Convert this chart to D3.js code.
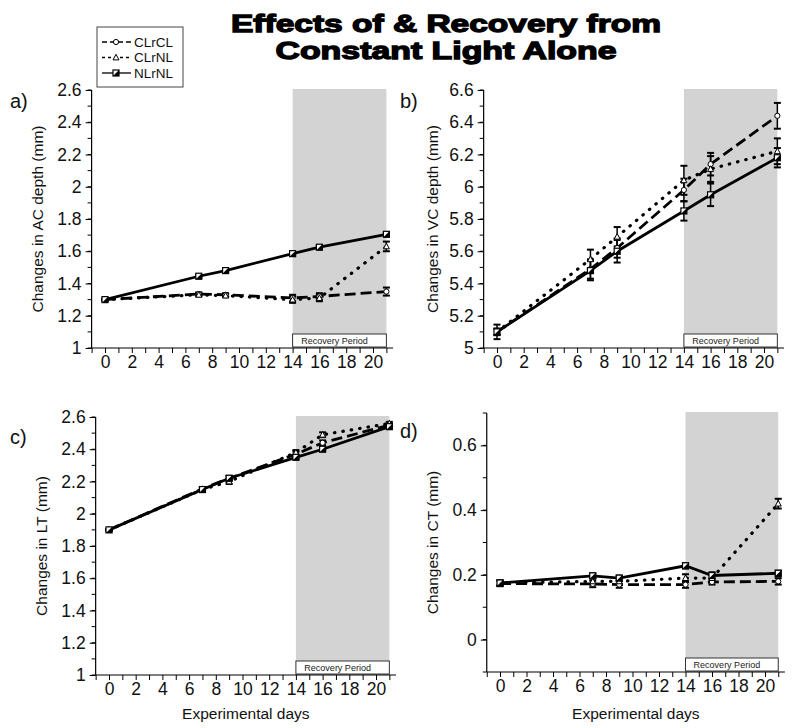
<!DOCTYPE html>
<html><head><meta charset="utf-8">
<script src="https://cdn.jsdelivr.net/npm/d3@7"></script>
<style>body{margin:0;background:#fff}svg{display:block}text{font-family:Arial,"Liberation Sans",sans-serif}</style>
</head><body><svg id="c" width="800" height="728"></svg>
<script>
const days = [0, 7, 9, 14, 16, 21];
const seriesNames = ["CLrCL", "CLrNL", "NLrNL"];
const titleLines = ["Effects of & Recovery from", "Constant Light Alone"];

// panel a: AC depth
const acCLrCL = [1.30, 1.335, 1.33, 1.31, 1.32, 1.35];
const acCLrNL = [1.30, 1.33, 1.325, 1.30, 1.31, 1.63];
const acNLrNL = [1.30, 1.445, 1.48, 1.585, 1.625, 1.705];
const acErr = [[0.005,0.01,0.01,0.02,0.02,0.025],[0.005,0.01,0.01,0.02,0.02,0.03],[0.005,0.008,0.008,0.008,0.01,0.01]];
// panel b: VC depth
const vcCLrCL = [5.10, 5.49, 5.62, 5.98, 6.14, 6.44];
const vcCLrNL = [5.10, 5.55, 5.69, 6.04, 6.11, 6.22];
const vcNLrNL = [5.10, 5.48, 5.60, 5.85, 5.95, 6.18];
const vcErr = [[0.02,0.06,0.06,0.07,0.07,0.08],[0.02,0.06,0.06,0.09,0.08,0.08],[0.045,0.06,0.07,0.06,0.07,0.06]];
// panel c: LT
const ltCLrCL = [1.90, 2.155, 2.22, 2.37, 2.44, 2.55];
const ltCLrNL = [1.90, 2.15, 2.20, 2.38, 2.49, 2.56];
const ltNLrNL = [1.90, 2.15, 2.22, 2.35, 2.40, 2.54];
const ltErr = [[0.005,0.01,0.015,0.015,0.015,0.01],[0.005,0.01,0.015,0.015,0.015,0.01],[0.005,0.01,0.01,0.01,0.01,0.01]];
// panel d: CT
const ctCLrCL = [0.173, 0.172, 0.170, 0.170, 0.178, 0.180];
const ctCLrNL = [0.175, 0.180, 0.180, 0.190, 0.190, 0.420];
const ctNLrNL = [0.175, 0.197, 0.190, 0.228, 0.198, 0.205];
const ctErr = [[0.008,0.01,0.01,0.01,0.008,0.01],[0.008,0.01,0.01,0.012,0.01,0.015],[0.008,0.008,0.008,0.008,0.01,0.008]];

const yTicksA = [1, 1.2, 1.4, 1.6, 1.8, 2, 2.2, 2.4, 2.6];
const yTicksB = [5, 5.2, 5.4, 5.6, 5.8, 6, 6.2, 6.4, 6.6];
const yTicksD = [0, 0.2, 0.4, 0.6];
const xTickLabels = [0, 2, 4, 6, 8, 10, 12, 14, 16, 18, 20];

const panels = [
  {label:"a)", ylab:"Changes in AC depth (mm)", data:[acCLrCL, acCLrNL, acNLrNL], err:acErr,
   yDom:[1,2.6], yRange:[348,90], xRange:[105,373], ticks:yTicksA, minor:0.1, lx:10, ly:108, ylx:43, xlab:null},
  {label:"b)", ylab:"Changes in VC depth (mm)", data:[vcCLrCL, vcCLrNL, vcNLrNL], err:vcErr,
   yDom:[5,6.6], yRange:[348,90], xRange:[497,764], ticks:yTicksB, minor:0.1, lx:400, ly:108, ylx:438, xlab:null},
  {label:"c)", ylab:"Changes in LT (mm)", data:[ltCLrCL, ltCLrNL, ltNLrNL], err:ltErr,
   yDom:[1,2.6], yRange:[675,417], xRange:[109,376], ticks:yTicksA, minor:0.1, lx:10, ly:444, ylx:47, xlab:"Experimental days"},
  {label:"d)", ylab:"Changes in CT (mm)", data:[ctCLrCL, ctCLrNL, ctNLrNL], err:ctErr,
   yDom:[-0.1,0.7], yRange:[672,413], xRange:[500,765], ticks:yTicksD, minor:0.1, lx:400, ly:438, ylx:438, xlab:"Experimental days"}
];

const styles = [
  {dash:"11,5", cap:"butt", marker:"circle"},
  {dash:"0.5,8", cap:"round", marker:"triangle"},
  {dash:null, cap:"butt", marker:"square"}
];

const tickFont = "'Liberation Sans Narrow','Arial Narrow',Arial,sans-serif";

const svg = d3.select("#c");
svg.append("rect").attr("width",800).attr("height",728).attr("fill","#fff");

const titleLens = [430, 341];
titleLines.forEach((t,i)=>{
  svg.append("text").attr("x",446).attr("y",32+i*27).attr("text-anchor","middle")
    .attr("font-size",24.5).attr("font-weight","bold").attr("font-family","'DejaVu Sans',Arial,sans-serif")
    .attr("stroke","#000").attr("stroke-width",1.3).attr("fill","#000")
    .attr("textLength",titleLens[i]).attr("lengthAdjust","spacingAndGlyphs").text(t);
});

function drawMarker(g, type, cx, cy){
  if(type==="circle"){
    g.append("circle").attr("cx",cx).attr("cy",cy).attr("r",2.6).attr("fill","#fff").attr("stroke","#000").attr("stroke-width",1);
  } else if(type==="triangle"){
    g.append("path").attr("d",`M${cx},${cy-3.2}L${cx+3},${cy+2.4}L${cx-3},${cy+2.4}Z`).attr("fill","#fff").attr("stroke","#000").attr("stroke-width",1);
  } else {
    g.append("rect").attr("x",cx-3).attr("y",cy-3).attr("width",6).attr("height",6).attr("fill","#fff").attr("stroke","#000").attr("stroke-width",1.2);
    g.append("path").attr("d",`M${cx-3},${cy+3}L${cx+3},${cy-3}L${cx+3},${cy+3}Z`).attr("fill","#000");
  }
}

panels.forEach(p=>{
  const x = d3.scaleLinear().domain([0,20]).range(p.xRange);
  const y = d3.scaleLinear().domain(p.yDom).range(p.yRange);
  const g = svg.append("g");
  const ax = x(-1), yTop = p.yRange[1], yBot = p.yRange[0];
  // shaded recovery region
  g.append("rect").attr("x",x(14)).attr("y",yTop-1).attr("width",x(21)-x(14)).attr("height",yBot-yTop+1).attr("fill","#d3d3d3");
  // recovery box
  g.append("rect").attr("x",x(14)).attr("y",yBot-14).attr("width",x(21)-x(14)).attr("height",13)
    .attr("fill","#fff").attr("stroke","#333").attr("stroke-width",1);
  g.append("text").attr("x",x(14)+(x(21)-x(14))/2-5).attr("y",yBot-4).attr("text-anchor","middle")
    .attr("font-size",9).attr("fill","#222").text("Recovery Period");
  // y axis
  const yMinor = d3.range(p.yDom[0], p.yDom[1]+1e-9, p.minor);
  g.append("line").attr("x1",ax).attr("x2",ax).attr("y1",yTop).attr("y2",yBot).attr("stroke","#000").attr("stroke-width",1.2);
  yMinor.forEach(v=>{
    g.append("line").attr("x1",ax-4).attr("x2",ax).attr("y1",y(v)).attr("y2",y(v)).attr("stroke","#000");
  });
  const yAxis = d3.axisLeft(y).tickValues(p.ticks).tickSize(6).tickFormat(d=>d3.format("")(+d.toFixed(2)));
  const ya = g.append("g").attr("transform",`translate(${ax},0)`).call(yAxis);
  ya.select(".domain").remove();
  ya.selectAll("text").attr("font-size",17.5).attr("font-family",tickFont).attr("fill","#111").attr("dx","-1");
  // x axis
  g.append("line").attr("x1",ax).attr("x2",x(21.5)).attr("y1",yBot).attr("y2",yBot).attr("stroke","#000").attr("stroke-width",1.2);
  const xAxis = d3.axisBottom(x).tickValues(d3.range(-1,22,1)).tickSize(5).tickFormat(d=>xTickLabels.includes(d)?d:"");
  const xa = g.append("g").attr("transform",`translate(0,${yBot})`).call(xAxis);
  xa.select(".domain").remove();
  xa.selectAll("text").attr("font-size",17.5).attr("font-family",tickFont).attr("fill","#111");
  // labels
  g.append("text").attr("x",p.lx).attr("y",p.ly).attr("font-size",20).attr("fill","#111").text(p.label);
  const midY = (yTop+yBot)/2;
  g.append("text").attr("transform",`translate(${p.ylx},${midY}) rotate(-90)`).attr("text-anchor","middle")
    .attr("font-size",15.5).attr("fill","#111").text(p.ylab);
  if(p.xlab){
    g.append("text").attr("x",(ax+x(21.5))/2).attr("y",719).attr("text-anchor","middle").attr("font-size",15.5).attr("fill","#111").text(p.xlab);
  }
  // series
  p.data.forEach((vals,si)=>{
    const st = styles[si];
    const line = d3.line().x((d,i)=>x(days[i])).y(d=>y(d));
    const path = g.append("path").datum(vals).attr("d",line).attr("fill","none").attr("stroke","#000")
      .attr("stroke-width", si===1?3.2:2.8).attr("stroke-linecap",st.cap);
    if(st.dash) path.attr("stroke-dasharray",st.dash);
  });
  // error bars + markers
  p.data.forEach((vals,si)=>{
    vals.forEach((v,i)=>{
      const e = p.err[si][i];
      const cx = x(days[i]);
      const y1 = y(v-e), y2 = y(v+e);
      g.append("line").attr("x1",cx).attr("x2",cx).attr("y1",y1).attr("y2",y2).attr("stroke","#000").attr("stroke-width",1.5);
      [y1,y2].forEach(yy=>g.append("line").attr("x1",cx-3.5).attr("x2",cx+3.5).attr("y1",yy).attr("y2",yy).attr("stroke","#000").attr("stroke-width",2));
    });
  });
  p.data.forEach((vals,si)=>{
    vals.forEach((v,i)=>drawMarker(g, styles[si].marker, x(days[i]), y(v)));
  });
});

// legend
const lg = svg.append("g");
lg.append("rect").attr("x",97).attr("y",27).attr("width",86).attr("height",60).attr("fill","#fff").attr("stroke","#444").attr("stroke-width",1);
seriesNames.forEach((n,i)=>{
  const yy = 42 + i*15.5;
  const st = styles[i];
  const ln = lg.append("line").attr("x1",102).attr("x2",131).attr("y1",yy).attr("y2",yy).attr("stroke","#000").attr("stroke-width",1.3);
  if(i===1) ln.attr("stroke-dasharray","3,3");
  if(i===0) ln.attr("stroke-dasharray","5,3");
  drawMarker(lg, st.marker, 116, yy);
  lg.append("text").attr("x",134).attr("y",yy+4.5).attr("font-size",13.5).attr("font-family",tickFont).attr("fill","#111").text(n);
});
</script></body></html>
